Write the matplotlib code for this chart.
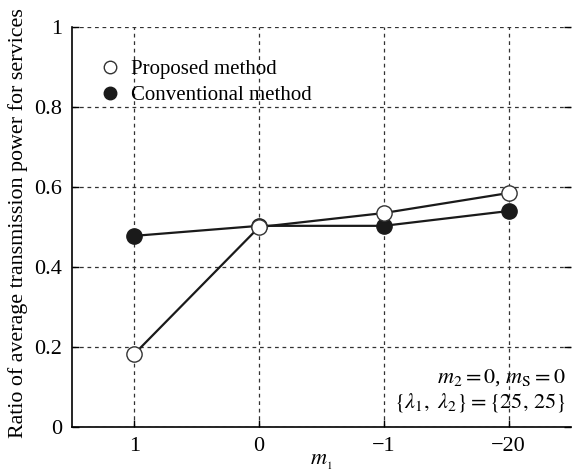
import matplotlib
matplotlib.use("Agg")
import matplotlib.pyplot as plt

categories = ["1", "0", "\u22121", "\u221220"]
proposed = [0.183, 0.500, 0.535, 0.585]
conventional = [0.478, 0.503, 0.503, 0.540]
y_ticks = [0, 0.2, 0.4, 0.6, 0.8, 1]
y_tick_labels = ["0", "0.2", "0.4", "0.6", "0.8", "1"]

plt.rcParams['font.family'] = ['Liberation Serif', 'DejaVu Serif']
plt.rcParams['mathtext.fontset'] = 'stix'

fig = plt.figure(figsize=(5.72, 4.73), dpi=100)
ax = fig.add_axes([0.126, 0.097, 0.872, 0.846])

x = list(range(len(categories)))
ax.plot(x, conventional, '-o', color='#1a1a1a', lw=1.6, ms=11,
        markerfacecolor='#1a1a1a', markeredgecolor='#1a1a1a', label='Conventional method', zorder=3)
ax.plot(x, proposed, '-o', color='#1a1a1a', lw=1.6, ms=11,
        markerfacecolor='white', markeredgecolor='#333333', markeredgewidth=1.0,
        label='Proposed method', zorder=4)

ax.set_xlim(-0.5, 3.5)
ax.set_ylim(0, 1)
ax.set_xticks(x)
ax.set_xticklabels(categories, fontsize=16)
ax.set_yticks(y_ticks)
ax.set_yticklabels(y_tick_labels, fontsize=16)
ax.tick_params(direction='in', length=5, width=1, top=False, right=True, pad=7)
ax.grid(True, linestyle=(0, (3, 3)), color='#333333', linewidth=0.9)
ax.spines['top'].set_visible(False)
ax.spines['right'].set_visible(False)
for s in ['left', 'bottom']:
    ax.spines[s].set_linewidth(1.2)

ax.set_ylabel('Ratio of average transmission power for services', fontsize=15.8, labelpad=3)
ax.yaxis.set_label_coords(-0.088, 0.51)
ax.set_xlabel('$m_{_1}$', fontsize=16, labelpad=-2)

h, l = ax.get_legend_handles_labels()
leg = ax.legend([h[1], h[0]], [l[1], l[0]], loc='upper left', bbox_to_anchor=(0.03, 0.955),
                frameon=False, fontsize=15, handlelength=0.8, handletextpad=0.6,
                borderaxespad=0.3, labelspacing=0.3)
for line in leg.get_lines():
    line.set_linestyle('None')
    line.set_markersize(9)

ax.text(0.99, 0.125, r'$m_2 = 0$, $m_\mathrm{S} = 0$', transform=ax.transAxes,
        ha='right', va='center', fontsize=16)
ax.text(0.99, 0.0625, r'$\{\lambda_1,\ \lambda_2\} = \{25,\,25\}$', transform=ax.transAxes,
        ha='right', va='center', fontsize=16)

fig.savefig('out.png', dpi=100)
